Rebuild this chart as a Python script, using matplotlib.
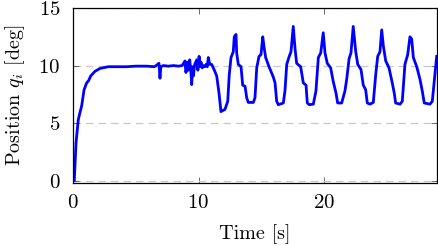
import matplotlib
matplotlib.use("Agg")
import matplotlib.pyplot as plt

plt.rcParams['font.family'] = 'serif'
plt.rcParams['font.serif'] = ['cmr10', 'DejaVu Serif']
plt.rcParams['mathtext.fontset'] = 'cm'
plt.rcParams['axes.formatter.use_mathtext'] = True

# time [s] and joint position [deg]
t = [0.0, 0.1, 0.24, 0.42, 0.55, 0.69, 0.88, 1.09, 1.25, 1.41, 1.75, 2.15, 2.81,
     3.5, 4.28, 5.0, 5.87, 6.5, 6.85, 6.93, 7.0, 7.2, 7.6, 8.0, 8.4, 8.7, 8.92,
     9.0, 9.1, 9.19, 9.3, 9.4, 9.46, 9.52, 9.59, 9.7, 9.86, 9.95, 10.05, 10.12,
     10.2, 10.3, 10.38, 10.5, 10.6, 10.7, 10.78, 10.9, 11.05, 11.18, 11.3, 11.45,
     11.63, 11.79, 12.11, 12.33, 12.45, 12.59, 12.77, 12.85, 12.99, 13.04, 13.17,
     13.39, 13.52, 13.71, 13.84, 13.97, 14.37, 14.50, 14.64, 14.82, 14.98, 15.12,
     15.24, 15.35, 15.62, 15.96, 16.10, 16.23, 16.36, 16.76, 16.89, 17.03, 17.23,
     17.37, 17.55, 17.69, 17.82, 18.14, 18.35, 18.57, 18.67, 18.83, 19.15, 19.36,
     19.55, 19.74, 19.94, 20.08, 20.26, 20.53, 20.74, 20.96, 21.09, 21.41, 21.67,
     21.82, 22.0, 22.15, 22.33, 22.53, 22.69, 22.95, 23.13, 23.32, 23.45, 23.67,
     23.93, 24.12, 24.28, 24.46, 24.60, 24.73, 24.92, 25.18, 25.44, 25.60, 25.71,
     26.06, 26.24, 26.45, 26.67, 26.85, 26.99, 27.12, 27.39, 27.65, 27.83, 27.99,
     28.45, 28.63, 28.84, 28.98]
q = [0.0, 0.0, 3.3, 5.3, 5.9, 6.5, 7.9, 8.5, 8.7, 9.1, 9.5, 9.75, 9.9,
     9.9, 9.9, 9.95, 9.95, 9.9, 10.2, 8.9, 9.9, 10.0, 9.95, 10.0, 9.95, 10.0, 10.4,
     9.4, 10.3, 9.6, 10.5, 9.4, 8.35, 9.9, 9.1, 10.1, 10.5, 9.6, 10.8, 9.9,
     10.3, 9.8, 10.0, 9.9, 10.1, 9.9, 10.7, 10.1, 10.1, 9.8, 9.5, 9.1,
     7.65, 6.0, 6.2, 6.9, 9.2, 10.7, 11.2, 12.5, 12.7, 11.1, 10.1,
     9.9, 8.3, 8.2, 7.2, 6.8, 6.8, 7.2, 9.8, 10.8, 10.95, 12.5,
     11.5, 10.7, 9.9, 9.0, 8.5, 6.9, 6.6, 6.75, 7.8, 10.1, 10.8,
     11.2, 13.4, 11.5, 10.2, 9.9, 8.5, 8.3, 6.75, 6.6, 6.65, 7.8,
     10.7, 11.1, 12.85, 11.1, 10.2, 9.8, 8.6, 7.6, 6.75, 6.75, 7.8,
     8.9, 10.6, 11.1, 13.4, 11.2, 10.1, 9.65, 8.3, 7.9, 6.75, 6.65,
     6.8, 9.2, 10.8, 11.2, 13.1, 11.7, 10.4, 9.8, 8.5, 7.6, 6.75,
     6.65, 6.9, 10.1, 10.95, 12.5, 12.3, 10.7, 9.9, 8.8, 7.8, 6.75,
     6.65, 6.9, 9.2, 10.8]

fig = plt.figure(figsize=(4.38, 2.46), dpi=100)
ax = fig.add_axes([0.1667, 0.256, 0.83, 0.7115])

ax.plot(t, q, color='blue', lw=2.0, solid_joinstyle='round')

ax.set_xlim(0, 28.97)
ax.set_ylim(-0.2, 15)
ax.set_xticks([0, 10, 20])
ax.set_yticks([0, 5, 10, 15])
ax.yaxis.grid(True, color='#c8c8c8', linestyle=(0, (6, 4)), linewidth=0.9)
ax.set_axisbelow(True)

ax.tick_params(direction='in', top=True, right=True, length=4, width=0.6,
               color='#555555', labelsize=15)
ax.tick_params(axis='x', pad=8)
ax.tick_params(axis='y', pad=9)
for s in ax.spines.values():
    s.set_linewidth(0.9)

ax.set_xlabel('Time [s]', fontsize=14.5, labelpad=9)
ax.set_ylabel('Position $q_i$ [deg]', fontsize=14.5, labelpad=8)

fig.savefig('out.png', dpi=100)
